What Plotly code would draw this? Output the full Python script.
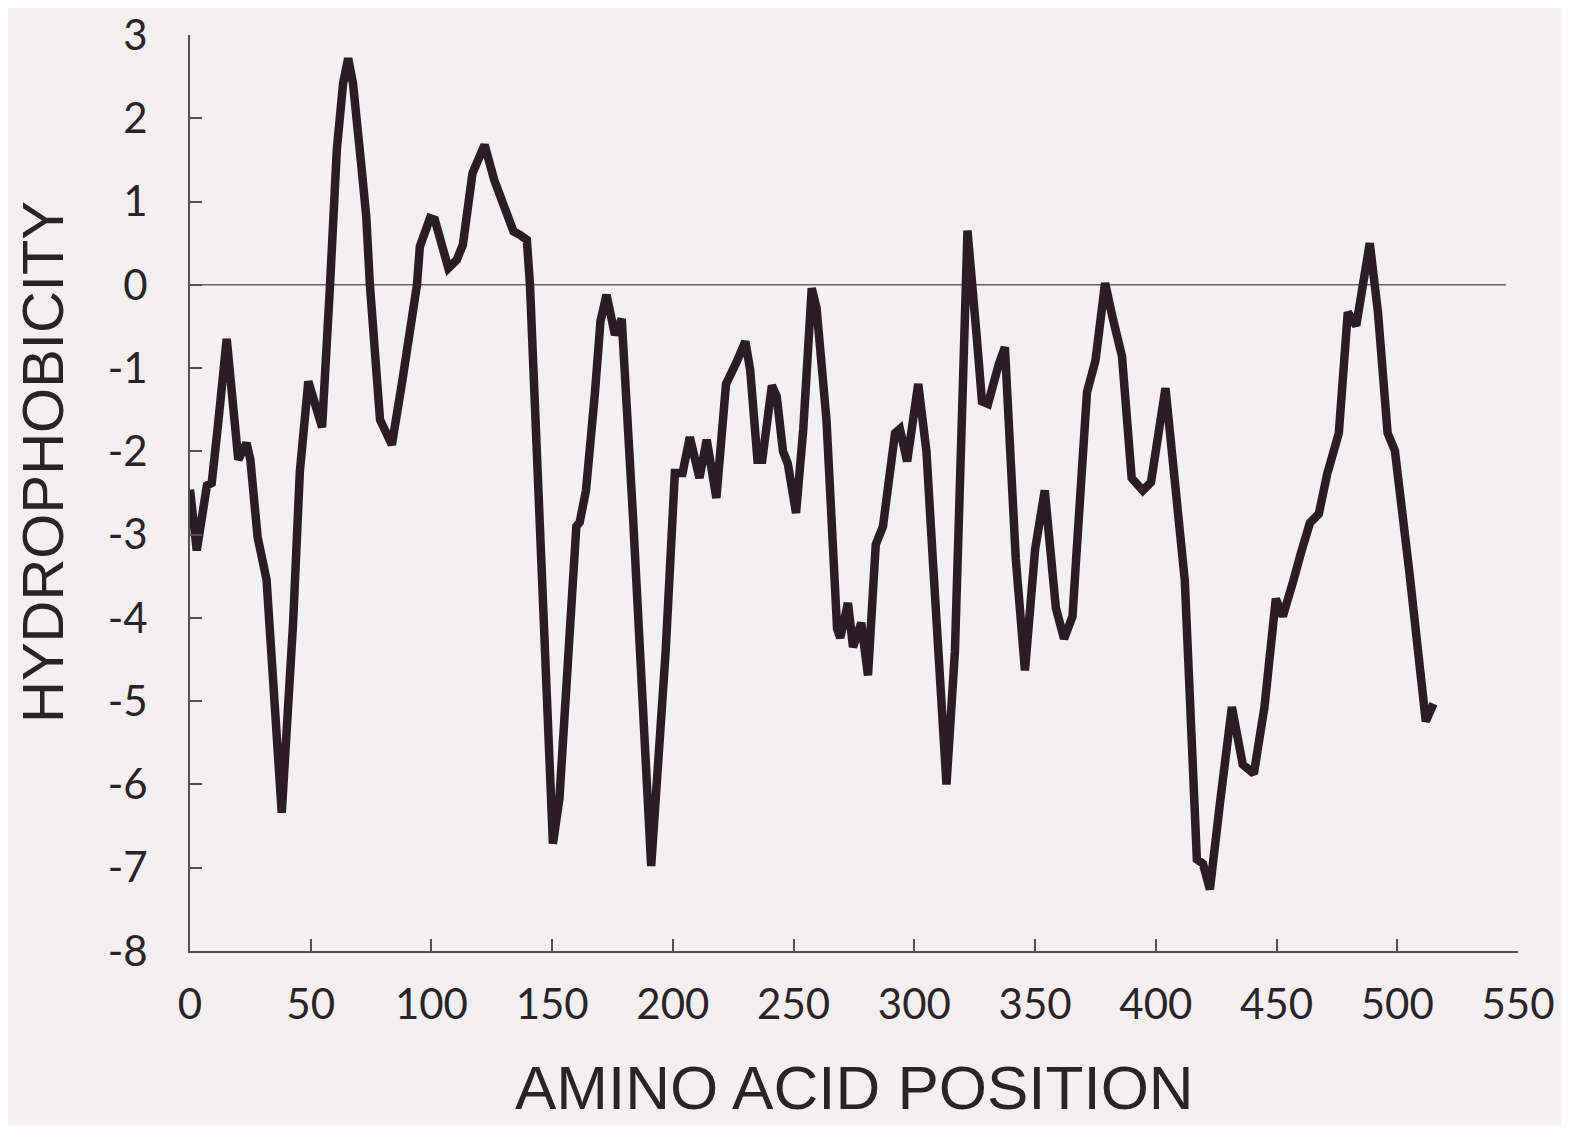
import plotly.graph_objects as go

# Hydrophobicity profile
position = [0, 2.8, 7, 9, 11.6, 15.2, 20, 23.4, 25, 28, 31.7, 38, 42.7, 45.5, 49, 54.7,
            58, 60.8, 63.4, 65.5, 67.5, 71, 73, 74.5, 78.7, 83.6, 88, 94, 95.2, 99.4,
            101.4, 107, 110.5, 113, 117, 122, 126, 134, 136.6, 139.5, 140.8, 150.3,
            153, 160, 161.4, 164, 167.7, 170, 172.5, 176, 178.8, 183.5, 191, 197,
            200.8, 204, 207, 211, 214, 218, 222, 226.5, 230, 232, 235, 237, 241, 243,
            245.6, 247.6, 251, 254, 257.5, 259.5, 263.6, 268, 269.3, 272.5, 274.6,
            278, 280.8, 284, 287, 292, 294, 297, 301.6, 305, 307.7, 313.3, 316.8,
            322, 325.9, 328, 330.5, 335, 337.5, 342, 345.8, 350, 354, 358.6, 362,
            365.5, 367, 371.5, 375, 379, 382, 386, 390, 394.6, 398, 404, 412, 417,
            419.5, 422.4, 426.5, 431.5, 436, 440.6, 445, 449.7, 452.6, 457, 460,
            463.8, 467.5, 471, 475.8, 479.5, 483, 488.6, 492, 496, 499, 505, 511.8,
            515]
hydrophobicity = [-2.46, -3.19, -2.41, -2.38, -1.68, -0.65, -2.1, -1.9, -2.1, -3.03, -3.54,
                  -6.34, -4.06, -2.24, -1.16, -1.71, 0.0, 1.62, 2.42, 2.72, 2.42, 1.42,
                  0.82, 0.0, -1.62, -1.92, -1.14, 0.0, 0.46, 0.8, 0.78, 0.2, 0.3, 0.48,
                  1.34, 1.68, 1.26, 0.64, 0.6, 0.54, 0.0, -6.71, -6.17, -2.9, -2.85,
                  -2.47, -1.3, -0.44, -0.12, -0.6, -0.41, -2.8, -6.98, -4.4, -2.26,
                  -2.26, -1.83, -2.32, -1.86, -2.56, -1.19, -0.92, -0.68, -1.02, -2.1,
                  -2.1, -1.21, -1.34, -2.0, -2.15, -2.74, -1.73, -0.04, -0.28, -1.62,
                  -4.13, -4.24, -3.82, -4.35, -4.06, -4.69, -3.12, -2.9, -1.78, -1.73,
                  -2.12, -1.19, -2.0, -3.33, -6.0, -4.4, 0.65, -0.65, -1.4, -1.43, -0.95,
                  -0.75, -3.29, -4.63, -3.18, -2.47, -3.88, -4.25, -3.98, -3.29, -1.29,
                  -0.91, 0.02, -0.38, -0.86, -2.32, -2.47, -2.37, -1.24, -3.55, -6.9,
                  -6.95, -7.26, -6.24, -5.07, -5.76, -5.87, -5.07, -3.77, -3.98, -3.55,
                  -3.23, -2.86, -2.75, -2.27, -1.78, -0.33, -0.49, 0.5, -0.33, -1.78,
                  -1.99, -3.45, -5.24, -5.03]

zero_line_x = [0, 545]
zero_line_y = [0, 0]

x_ticks = [0, 50, 100, 150, 200, 250, 300, 350, 400, 450, 500, 550]
x_tick_text = ["0", "50", "100", "150", "200", "250", "300", "350", "400", "450", "500", "550"]
y_ticks = [3, 2, 1, 0, -1, -2, -3, -4, -5, -6, -7, -8]
y_tick_text = ["3", "2", "1", "0", "-1", "-2", "-3", "-4", "-5", "-6", "-7", "-8"]

BG = "#f4eff1"
INK = "#2a1e24"
AXIS = "#555055"

fig = go.Figure()
fig.add_trace(go.Scatter(x=zero_line_x, y=zero_line_y, mode="lines",
                         line=dict(color="#6a6468", width=1.6), hoverinfo="skip",
                         showlegend=False))
fig.add_trace(go.Scatter(x=position, y=hydrophobicity, mode="lines",
                         line=dict(color=INK, width=8.5, simplify=False),
                         showlegend=False))

tick_font = dict(family="Lato, 'Open Sans', sans-serif", size=42, color="#2a2428")
title_font = dict(family="'Liberation Sans', Arial, sans-serif", size=62, color="#2a2428")

# page has an 8px body margin, so the figure is sized to fit inside it
fig.update_layout(
    width=1553, height=1118,
    paper_bgcolor=BG, plot_bgcolor=BG,
    margin=dict(l=182, r=43, t=27, b=175, autoexpand=False),
    xaxis=dict(range=[0, 550], showgrid=False, zeroline=False, automargin=False,
               showline=True, linecolor=AXIS, linewidth=2,
               ticks="inside", ticklen=12, tickwidth=2, tickcolor=AXIS,
               tickvals=x_ticks, ticktext=x_tick_text, tickfont=tick_font,
               ticklabelstandoff=16),
    yaxis=dict(range=[-8, 3], showgrid=False, zeroline=False, automargin=False,
               showline=True, linecolor=AXIS, linewidth=2,
               ticks="inside", ticklen=12, tickwidth=2, tickcolor=AXIS,
               tickvals=y_ticks, ticktext=y_tick_text, tickfont=tick_font,
               ticklabelstandoff=32),
    annotations=[
        dict(text="AMINO ACID POSITION", xref="paper", yref="paper", x=0.5, y=0,
             xanchor="center", yanchor="bottom", yshift=-173, showarrow=False,
             font=title_font),
        dict(text="HYDROPHOBICITY", xref="paper", yref="paper", x=0, y=0.5,
             xanchor="center", yanchor="middle", xshift=-148, yshift=31,
             textangle=-90, showarrow=False, font=dict(title_font, size=58)),
    ],
)

fig.write_html("out.html")
